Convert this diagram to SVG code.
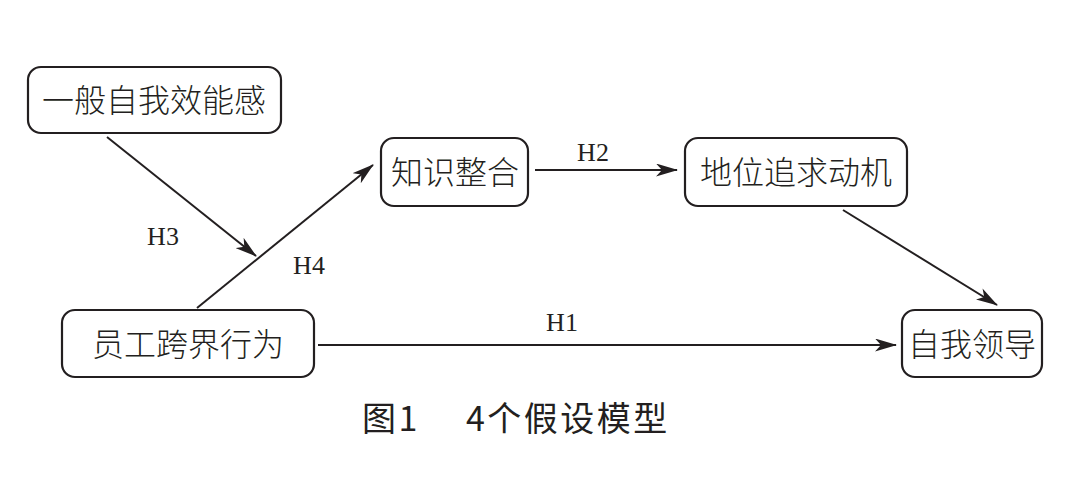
<svg xmlns="http://www.w3.org/2000/svg" width="1085" height="493" viewBox="0 0 1085 493">
<style>
.box{fill:#fff;stroke:#231f20;stroke-width:2.2}
.nt{font-family:"Noto Sans CJK SC",sans-serif;font-weight:300;font-size:32px;fill:#231f20;text-anchor:middle}
.lb{font-family:"Liberation Serif",serif;font-size:26px;fill:#231f20;text-anchor:middle}
.ln{stroke:#231f20;stroke-width:2;fill:none;marker-end:url(#ah)}
.cap{font-family:"Noto Sans CJK SC",sans-serif;font-weight:400;font-size:34px;letter-spacing:2.5px;fill:#231f20}
</style>
<defs>
<marker id="ah" viewBox="0 0 22 13" refX="21" refY="6.5" markerWidth="22" markerHeight="13" markerUnits="userSpaceOnUse" orient="auto">
<path d="M0,0 L22,6.5 L0,13 L6,6.5 Z" fill="#231f20"/>
</marker>
</defs>
<rect width="1085" height="493" fill="#fff"/>
<g id="connectors">
<line class="ln" x1="107" y1="137" x2="256" y2="256"/>
<line class="ln" x1="197" y1="308" x2="373" y2="165"/>
<line class="ln" x1="535" y1="170" x2="677" y2="170"/>
<line class="ln" x1="843" y1="210" x2="997" y2="305"/>
<line class="ln" x1="318" y1="345" x2="896" y2="345"/>
<text class="lb" x="163" y="245">H3</text>
<text class="lb" x="309" y="274">H4</text>
<text class="lb" x="593" y="161">H2</text>
<text class="lb" x="562" y="331">H1</text>
</g>
<g id="n1"><rect class="box" x="28" y="67" width="253" height="66" rx="13"/><text class="nt" x="154" y="112">一般自我效能感</text></g>
<g id="n2"><rect class="box" x="381" y="138" width="147" height="68" rx="13"/><text class="nt" x="455" y="184">知识整合</text></g>
<g id="n3"><rect class="box" x="685" y="138" width="222" height="68" rx="13"/><text class="nt" x="796" y="184">地位追求动机</text></g>
<g id="n4"><rect class="box" x="62" y="310" width="252" height="67" rx="13"/><text class="nt" x="188" y="356">员工跨界行为</text></g>
<g id="n5"><rect class="box" x="902" y="310" width="140" height="67" rx="13"/><text class="nt" x="972" y="356">自我领导</text></g>
<text class="cap" x="362" y="431">图1<tspan x="466">4个假设模型</tspan></text>
</svg>
